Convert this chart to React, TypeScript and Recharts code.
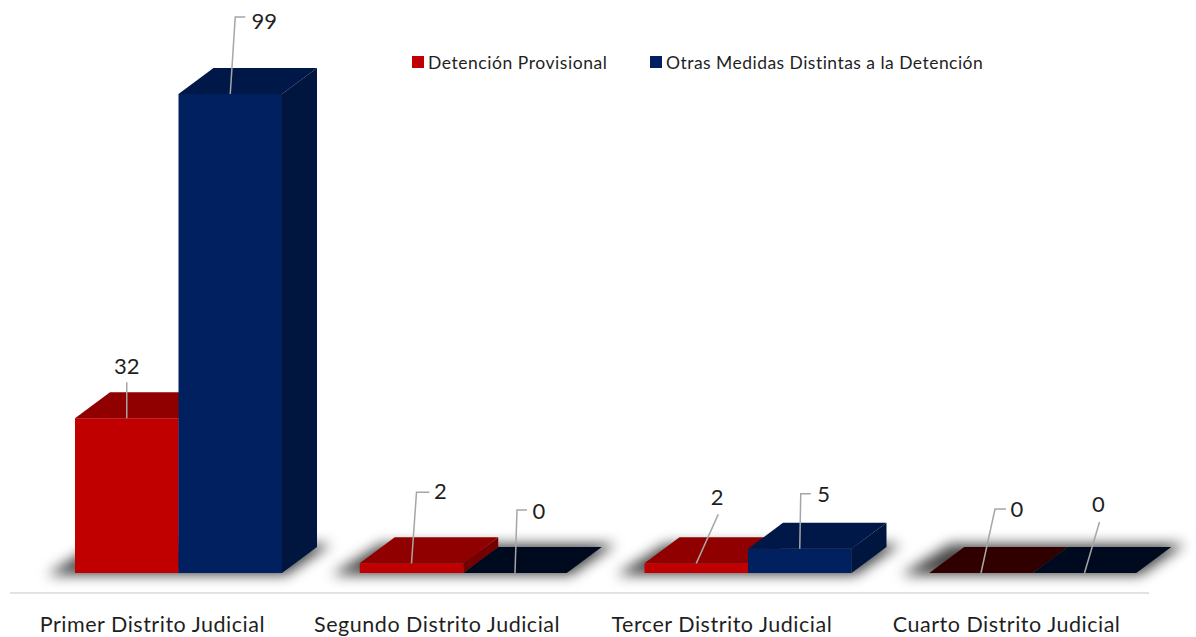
import React from "react";
import { BarChart, Bar, XAxis, YAxis, Legend, LabelList } from "recharts";

const categories = ["Primer Distrito Judicial", "Segundo Distrito Judicial", "Tercer Distrito Judicial", "Cuarto Distrito Judicial"];
const detencion = [32, 2, 2, 0];
const otras = [99, 0, 5, 0];
const seriesNames = ["Detención Provisional", "Otras Medidas Distintas a la Detención"];

const rows = categories.map((name, i) => ({ name, detencion: detencion[i], otras: otras[i] }));

const FONT = "Lato, 'Open Sans', sans-serif";
const TEXT = "#1f1f1f";
const DEPTH_X = 35;
const DEPTH_Y = 26;
const FLOOR_SHIFT = 26;

const redTones = { front: "#C00000", top: "#900000", side: "#760000", zero: "#300000" };
const blueTones = { front: "#002060", top: "#001848", side: "#00163f", zero: "#000A1E" };

// leader-line bends and label centres, relative to the top-centre of each bar's front face
const redLeaders = [
  { pts: [[0, -36]], text: [0, -53] },
  { pts: [[5, -71], [18, -71]], text: [29, -72.5] },
  { pts: [[22, -49]], text: [21, -67] },
  { pts: [[14, -64], [25, -64]], text: [36, -64.5] },
];
const blueLeaders = [
  { pts: [[5, -77], [15, -77]], text: [34, -74] },
  { pts: [[2, -63], [12, -63]], text: [24, -62.5] },
  { pts: [[1, -55], [11, -55]], text: [24, -55.5] },
  { pts: [[15, -51]], text: [14, -70] },
];

const pg = (p: number[][]) => p.map((q) => q.join(",")).join(" ");

function Bar3D(props: any) {
  const { x, y, width, height, tones, shadow } = props;
  const l = x + FLOOR_SHIFT;
  const r = l + width;
  const b = y + height;
  const flat = height < 0.5;
  return (
    <g>
      {shadow && (
        <polygon
          points={pg([
            [l - 28, b + 2],
            [l + 2 * width + 4, b + 2],
            [l + 2 * width + DEPTH_X + 14, b - DEPTH_Y - 3],
            [l + DEPTH_X - 14, b - DEPTH_Y - 3],
          ])}
          fill="#000"
          fillOpacity={0.72}
          filter="url(#floorBlur)"
        />
      )}
      <polygon
        points={pg([[l, y], [r, y], [r + DEPTH_X, y - DEPTH_Y], [l + DEPTH_X, y - DEPTH_Y]])}
        fill={flat ? tones.zero : tones.top}
      />
      {!flat && (
        <>
          <polygon points={pg([[r, y], [r + DEPTH_X, y - DEPTH_Y], [r + DEPTH_X, b - DEPTH_Y], [r, b]])} fill={tones.side} />
          <rect x={l} y={y} width={width} height={height} fill={tones.front} />
        </>
      )}
    </g>
  );
}

function Leader(props: any) {
  const { x, y, width, index, value, leaders } = props;
  const ax = x + width / 2 + FLOOR_SHIFT;
  const d = leaders[index];
  const pts = [[ax, y], ...d.pts.map((p: number[]) => [ax + p[0], y + p[1]])];
  return (
    <g>
      <polyline points={pg(pts)} fill="none" stroke="#a6a6a6" strokeWidth={1.5} />
      <text x={ax + d.text[0]} y={y + d.text[1]} textAnchor="middle" dominantBaseline="central" fontFamily={FONT} fontSize={22} fill={TEXT}>
        {value}
      </text>
    </g>
  );
}

function LegendBox() {
  const items = [
    { name: seriesNames[0], color: redTones.front, left: 412, spacing: 0.55 },
    { name: seriesNames[1], color: blueTones.front, left: 650, spacing: 0.47 },
  ];
  return (
    <div>
      {items.map((it) => (
        <div key={it.name} style={{ position: "absolute", left: it.left, top: 0, display: "flex", alignItems: "center", whiteSpace: "nowrap", fontFamily: FONT, fontSize: 17.5, letterSpacing: it.spacing, color: TEXT, height: 24 }}>
          <span style={{ width: 12, height: 12, background: it.color, marginRight: 4, display: "inline-block" }} />
          {it.name}
        </div>
      ))}
    </div>
  );
}

export default function App() {
  return (
    <div style={{ position: "absolute", left: 0, top: 0, width: 1196, height: 637, background: "#fff" }}>
      <BarChart
        width={1196}
        height={637}
        data={rows}
        margin={{ top: 70, right: 47, bottom: 0, left: 10 }}
        barGap={0}
        barSize={103.5}
      >
        <defs>
          <filter id="floorBlur" x="-20%" y="-60%" width="140%" height="220%">
            <feGaussianBlur stdDeviation="6.5" />
          </filter>
        </defs>
        <XAxis
          dataKey="name"
          height={44}
          tickLine={false}
          axisLine={{ stroke: "#d9d9d9", strokeWidth: 1.5 }}
          interval={0}
          tick={{ fontFamily: FONT, fontSize: 21.5, fill: TEXT, letterSpacing: 0.52 }}
          tickMargin={18}
        />
        <YAxis hide domain={[-4.13, 99]} />
        <Legend verticalAlign="top" content={<LegendBox />} wrapperStyle={{ position: "absolute", top: 50, left: 0, width: 1196, height: 24 }} />
        <Bar
          dataKey="detencion"
          name={seriesNames[0]}
          isAnimationActive={false}
          shape={(p: any) => <Bar3D {...p} tones={redTones} shadow />}
        >
          <LabelList dataKey="detencion" content={(p: any) => <Leader {...p} leaders={redLeaders} />} />
        </Bar>
        <Bar
          dataKey="otras"
          name={seriesNames[1]}
          isAnimationActive={false}
          shape={(p: any) => <Bar3D {...p} tones={blueTones} />}
        >
          <LabelList dataKey="otras" content={(p: any) => <Leader {...p} leaders={blueLeaders} />} />
        </Bar>
      </BarChart>
    </div>
  );
}
